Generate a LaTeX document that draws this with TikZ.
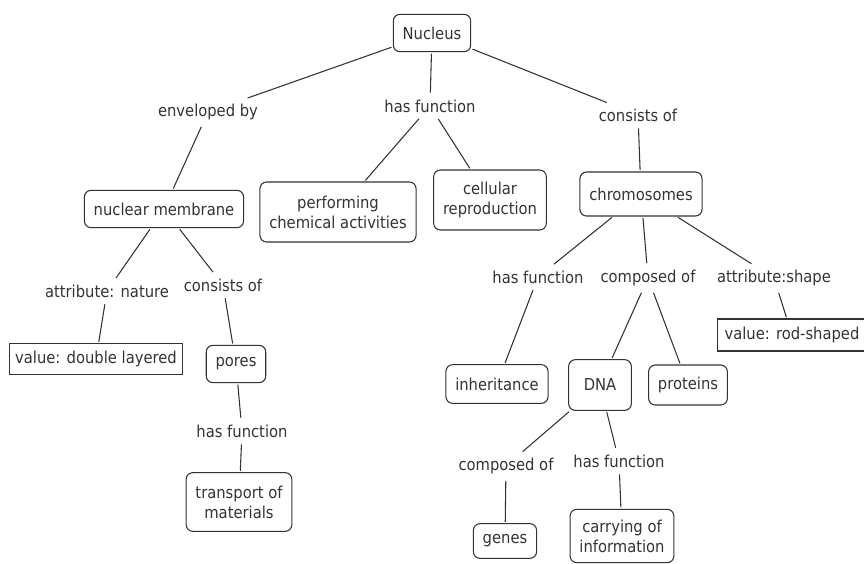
\documentclass[tikz,border=0pt]{standalone}
\usepackage{xcolor}
\usepackage{fontspec}
\setmainfont{DejaVu Sans Condensed}
\usepackage{tikz}
\usetikzlibrary{positioning}
\definecolor{inkgray}{HTML}{333333}
\tikzstyle{concept} = [rectangle, draw=inkgray, line width=0.8pt, rounded corners=5pt, align=center, inner xsep=7pt, inner ysep=5pt, minimum height=28pt]
\tikzstyle{valuebox} = [rectangle, draw=inkgray, line width=0.8pt, align=center, inner xsep=4pt, inner ysep=3pt, minimum height=23pt]
\tikzstyle{linker} = [align=center, inner sep=4pt]
\tikzstyle{link} = [draw=inkgray, line width=0.8pt, shorten <=1pt, shorten >=1pt]

\begin{document}
\begin{tikzpicture}[x=0.75pt, y=-0.75pt, font=\fontsize{12.3}{15}\selectfont, text=inkgray]
\useasboundingbox (0,0) rectangle (864,564);

% Top concept and first linking phrases
\node[concept] (nucleus) at (432,33) {Nucleus};
\node[linker] (env_by) at (208,112) {enveloped by};
\node[linker] (has_fn1) at (430,106) {has function};
\node[linker] (consists1) at (638,115) {consists of};

% Second row of concepts
\node[concept] (membrane) at (164,209) {nuclear membrane};
\node[concept, minimum height=45pt] (performing) at (338,212) {performing\\chemical activities};
\node[concept, minimum height=45pt] (reproduction) at (490,200) {cellular\\reproduction};
\node[concept, minimum height=33pt] (chromosomes) at (641,194) {chromosomes};

% Left branch: nuclear membrane
\node[linker] (attr_nature) at (107,291) {attribute: nature};
\node[linker] (consists2) at (223,285) {consists of};
\node[valuebox] (double_layered) at (96,359) {value: double layered};
\node[concept] (pores) at (236,364) {pores};
\node[linker] (has_fn2) at (242,431) {has function};
\node[concept, minimum height=44pt] (transport) at (239,502) {transport of\\materials};

% Right branch: chromosomes
\node[linker] (has_fn3) at (538,277) {has function};
\node[linker] (composed1) at (648,278) {composed of};
\node[linker] (attr_shape) at (774,278) {attribute:shape};
\node[valuebox, minimum height=24pt, inner xsep=5pt] (rod_shaped) at (792,335) {value: rod-shaped};
\node[concept, minimum height=29pt] (inheritance) at (497,384) {inheritance};
\node[concept, minimum height=38pt, minimum width=47pt] (dna) at (600,385) {DNA};
\node[concept, minimum height=30pt] (proteins) at (688,385) {proteins};

% DNA branch
\node[linker] (composed2) at (506,466) {composed of};
\node[linker] (has_fn4) at (619,461) {has function};
\node[concept, minimum height=26pt] (genes) at (505,541) {genes};
\node[concept, minimum height=40pt] (carrying) at (622,536) {carrying of\\information};

% Connectors from the top
\draw[link] (nucleus) -- (env_by);
\draw[link] (env_by) -- (membrane);
\draw[link] (nucleus) -- (has_fn1);
\draw[link] (has_fn1) -- (performing);
\draw[link] (has_fn1) -- (reproduction);
\draw[link] (nucleus) -- (consists1);
\draw[link] (consists1) -- (chromosomes);

% Connectors of the membrane branch
\draw[link] (membrane) -- (attr_nature);
\draw[link] (attr_nature) -- (double_layered);
\draw[link] (membrane) -- (consists2);
\draw[link] (consists2) -- (pores);
\draw[link] (pores) -- (has_fn2);
\draw[link] (has_fn2) -- (transport);

% Connectors of the chromosome branch
\draw[link] (chromosomes) -- (has_fn3);
\draw[link] (has_fn3) -- (inheritance);
\draw[link] (chromosomes) -- (composed1);
\draw[link] (composed1) -- (dna);
\draw[link] (composed1) -- (proteins);
\draw[link] (chromosomes) -- (attr_shape);
\draw[link] (attr_shape) -- (rod_shaped);

% Connectors of the DNA branch
\draw[link] (dna) -- (composed2);
\draw[link] (composed2) -- (genes);
\draw[link] (dna) -- (has_fn4);
\draw[link] (has_fn4) -- (carrying);

\end{tikzpicture}
\end{document}
